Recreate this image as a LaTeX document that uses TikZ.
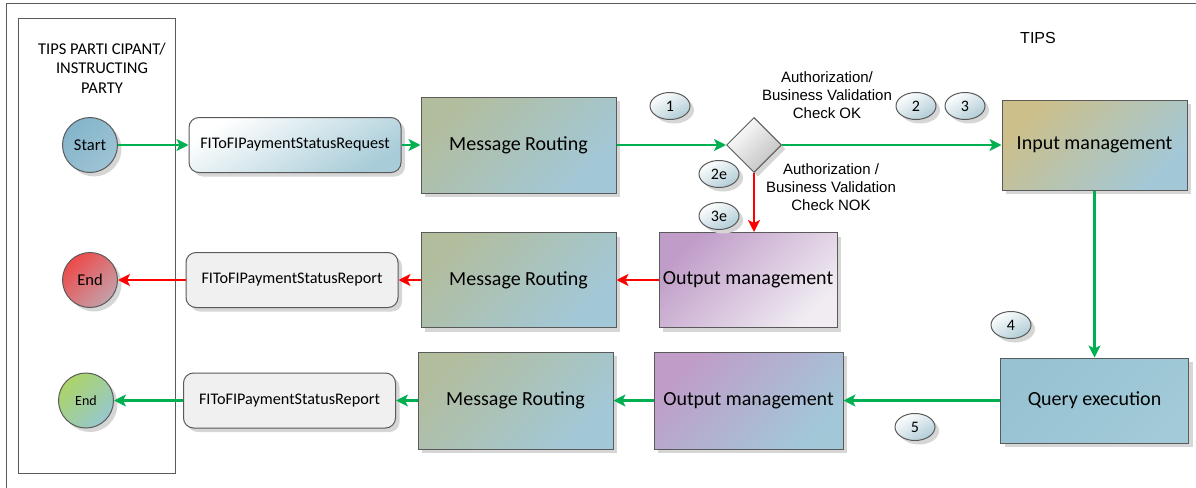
\documentclass[tikz,border=0pt]{standalone}
\usepackage{fontspec}
\setmainfont{Carlito}
\newfontfamily\arialfont{Liberation Sans}
\usetikzlibrary{shapes.geometric,shadows,arrows.meta}

\definecolor{edgegray}{RGB}{90,90,90}
\definecolor{flowgreen}{RGB}{0,176,80}
\definecolor{flowred}{RGB}{255,0,0}
\definecolor{routeA}{RGB}{178,189,158}
\definecolor{routeB}{RGB}{162,200,216}
\definecolor{inputA}{RGB}{204,191,138}
\definecolor{outA}{RGB}{192,156,200}
\definecolor{outB}{RGB}{240,236,242}
\definecolor{queryA}{RGB}{150,194,210}
\definecolor{queryB}{RGB}{162,202,216}
\definecolor{msgB}{RGB}{168,204,216}
\definecolor{repfill}{RGB}{240,240,240}
\definecolor{startA}{RGB}{132,180,202}
\definecolor{startB}{RGB}{158,196,212}
\definecolor{endRA}{RGB}{238,74,74}
\definecolor{endRB}{RGB}{196,160,170}
\definecolor{endGA}{RGB}{172,212,104}
\definecolor{endGB}{RGB}{150,200,205}
\definecolor{numB}{RGB}{176,204,214}

\tikzset{
  softshadow/.style={drop shadow={shadow xshift=4pt,shadow yshift=-4pt,fill=black!16,opacity=1}},
  taskbox/.style={rectangle, draw=edgegray, line width=1pt, inner sep=0pt,
    font=\fontsize{20}{22}\selectfont, softshadow},
  msgbox/.style={rectangle, rounded corners=10pt, draw=edgegray, line width=1pt,
    minimum width=212pt, minimum height=55pt, inner sep=0pt,
    font=\fontsize{16.2}{18}\selectfont, softshadow},
  eventdot/.style={circle, draw=edgegray, line width=1pt, minimum size=55pt,
    inner sep=0pt, softshadow},
  stepnum/.style={ellipse, draw=edgegray, line width=1pt, minimum width=40pt,
    minimum height=27pt, inner sep=0pt, top color=white, bottom color=numB,
    shading angle=30, softshadow, font=\fontsize{16}{18}\selectfont},
  checkbox/.style={diamond, draw=edgegray, line width=1pt, minimum size=55pt,
    inner sep=0pt, top color=white, bottom color=black!25, shading angle=45, softshadow},
  notetext/.style={align=center, font=\arialfont\fontsize{15}{18}\selectfont},
  okflow/.style={draw=flowgreen, line width=2.4pt, -{Stealth[length=12pt,width=12pt,inset=3pt]}},
  nokflow/.style={draw=flowred, line width=2.4pt, -{Stealth[length=12pt,width=12pt,inset=3pt]}}
}

\begin{document}
\begin{tikzpicture}[x=1pt, y=-1pt]
\useasboundingbox (0,0) rectangle (1196,487);

% frames
\draw[edgegray, line width=0.8pt] (6,495) -- (6,3) -- (1200,3);
\draw[edgegray, line width=1pt] (18,19) rectangle (175,473);
\node[align=center, font=\fontsize{16.5}{19.5}\selectfont] (lane) at (102,68) {TIPS PARTI CIPANT/\\INSTRUCTING\\PARTY};
\node[font=\arialfont\fontsize{16}{18}\selectfont] (tips) at (1038,38) {TIPS};

% upper row
\node[eventdot, top color=startA, bottom color=startB, shading angle=45, font=\fontsize{16.5}{18}\selectfont] (start) at (90,145) {Start};
\node[msgbox, top color=white, bottom color=msgB, shading angle=30] (req) at (295,145) {FIToFIPaymentStatusRequest};
\node[taskbox, minimum width=195pt, minimum height=96pt, top color=routeA, bottom color=routeB, shading angle=45] (route1) at (518.5,145) {Message Routing};
\node[checkbox] (check) at (754,145) {};
\node[taskbox, minimum width=185pt, minimum height=90pt, top color=inputA, bottom color=routeB, shading angle=45] (input) at (1094.5,145) {Input management};

% middle row
\node[taskbox, minimum width=178pt, minimum height=95pt, top color=outA, bottom color=outB, shading angle=45] (out1) at (748,280) {Output management};
\node[taskbox, minimum width=195pt, minimum height=95pt, top color=routeA, bottom color=routeB, shading angle=45] (route2) at (518.5,280) {Message Routing};
\node[msgbox, fill=repfill] (rep1) at (292,280) {FIToFIPaymentStatusReport};
\node[eventdot, top color=endRA, bottom color=endRB, shading angle=45, font=\fontsize{16.5}{18}\selectfont] (endred) at (90,280) {End};

% lower row
\node[taskbox, minimum width=188pt, minimum height=85pt, top color=queryA, bottom color=queryB, shading angle=45] (query) at (1094.5,400.5) {Query execution};
\node[taskbox, minimum width=189pt, minimum height=97pt, top color=outA, bottom color=routeB, shading angle=45] (out2) at (748.5,400.5) {Output management};
\node[taskbox, minimum width=195pt, minimum height=97pt, top color=routeA, bottom color=routeB, shading angle=45] (route3) at (515.5,400.5) {Message Routing};
\node[msgbox, fill=repfill] (rep2) at (289.5,400.5) {FIToFIPaymentStatusReport};
\node[eventdot, top color=endGA, bottom color=endGB, shading angle=45, font=\fontsize{14}{15}\selectfont] (endgreen) at (86,400.5) {End};

% step numbers and notes
\node[stepnum] (s1) at (670,106) {1};
\node[stepnum] (s2) at (916,106) {2};
\node[stepnum] (s3) at (965,106) {3};
\node[stepnum] (s2e) at (719,174) {2e};
\node[stepnum] (s3e) at (719,216) {3e};
\node[stepnum] (s4) at (1011,325) {4};
\node[stepnum] (s5) at (915,427) {5};
\node[notetext] (okl) at (827,95) {Authorization/\\Business Validation\\Check OK};
\node[notetext] (nokl) at (831,187) {Authorization /\\Business Validation\\Check NOK};

% flows
\draw[okflow] (start) -- (req);
\draw[okflow] (req) -- (route1);
\draw[okflow] (route1) -- (check);
\draw[okflow] (check) -- (input);
\draw[nokflow] (check.south) -- (check.south |- out1.north);
\draw[nokflow] (out1) -- (route2);
\draw[nokflow] (route2) -- (rep1);
\draw[nokflow] (rep1) -- (endred);
\draw[okflow] (input.south) -- (query.north);
\draw[okflow] (query) -- (out2);
\draw[okflow] (out2) -- (route3);
\draw[okflow] (route3) -- (rep2);
\draw[okflow] (rep2) -- (endgreen);
\end{tikzpicture}
\end{document}
